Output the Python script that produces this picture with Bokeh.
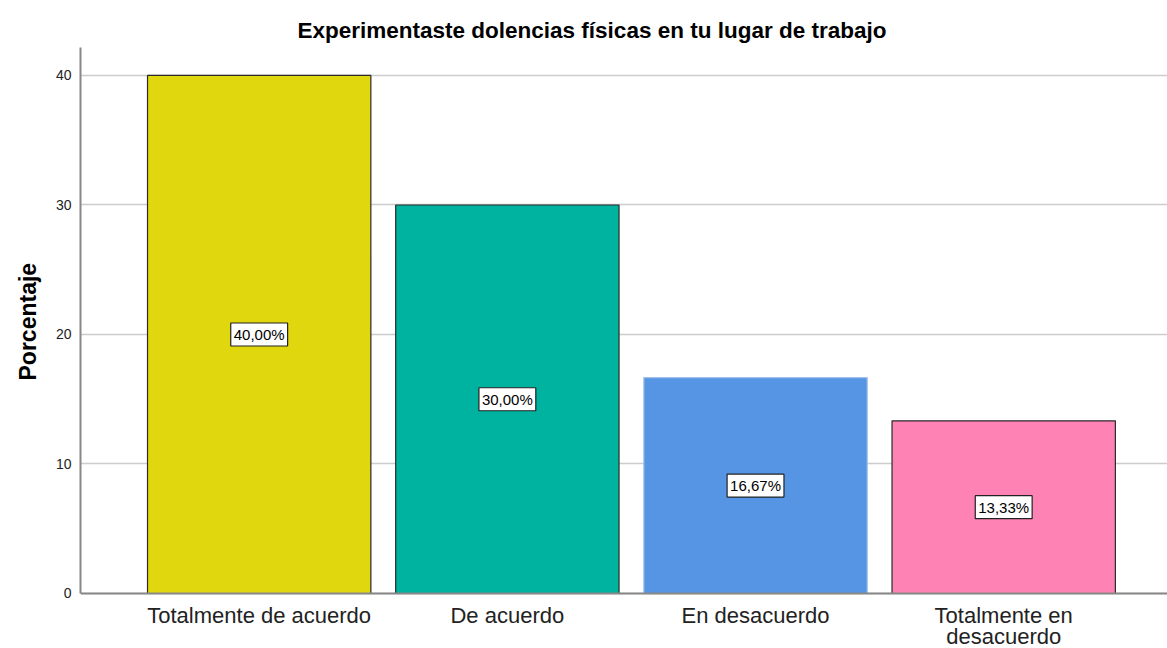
from bokeh.plotting import figure
from bokeh.models import ColumnDataSource, LabelSet, Label, FixedTicker, Range1d, Span, Title
from bokeh.core.properties import value
from bokeh.embed import file_html
from bokeh.resources import INLINE

categories = ["Totalmente de acuerdo", "De acuerdo", "En desacuerdo", "Totalmente en\ndesacuerdo"]
values = [40.00, 30.00, 16.67, 13.33]
colors = ["#E1D70F", "#00B2A0", "#5595E3", "#FF82B4"]
outline = ["#2b2b2b", "#2b2b2b", "#9fc0ea", "#2b2b2b"]
y_ticks = [0, 10, 20, 30, 40]

xs = list(range(1, len(categories) + 1))
line1 = [c.split("\n")[0] for c in categories]
line2 = [c.split("\n")[1] if "\n" in c else "" for c in categories]
src = ColumnDataSource(dict(
    x=xs, top=values, color=colors, line=outline,
    l1=line1, l2=line2, zero=[0] * len(xs),
))

FONT = "Liberation Sans"
p = figure(width=1167, height=648, output_backend="svg", toolbar_location=None,
           x_range=Range1d(0.28, 4.66), y_range=Range1d(-4.247, 42.16),
           x_axis_location=None,
           min_border_left=80, min_border_right=0, min_border_top=47, min_border_bottom=0)

p.title.text = "Experimentaste dolencias físicas en tu lugar de trabajo"
p.title.align = "left"
p.title.offset = 217
p.title.text_font = FONT
p.title.text_font_size = "22.5px"
p.title.text_font_style = "bold"
p.title.text_color = "#000000"

p.vbar(x="x", top="top", width=0.9, bottom=0, source=src, fill_color="color",
       line_color="line", line_width=1.2)

p.add_layout(Span(location=0, dimension="width", line_color="#888888", line_width=2))

for x, v in zip(xs, values):
    p.add_layout(Label(x=x, y=v / 2, text=("%.2f%%" % v).replace(".", ","),
                       text_align="center", text_baseline="middle",
                       text_font=FONT, text_font_size="15px", text_color="#000000",
                       background_fill_color="white", border_line_color="#222222",
                       border_line_width=1.2, padding=3))

cat1 = LabelSet(x="x", y="zero", text="l1", source=src, text_align="center",
                text_baseline="top", y_offset=-10, text_font=value(FONT),
                text_font_size="22px", text_color="#222222")
cat2 = LabelSet(x="x", y="zero", text="l2", source=src, text_align="center",
                text_baseline="top", y_offset=-31, text_font=value(FONT),
                text_font_size="22px", text_color="#222222")
p.add_layout(cat1)
p.add_layout(cat2)

p.yaxis.ticker = FixedTicker(ticks=y_ticks)
p.yaxis.bounds = (0, 42.16)
p.yaxis.major_label_text_font = FONT
p.yaxis.major_label_text_font_size = "14px"
p.yaxis.major_label_text_color = "#222222"
p.yaxis.major_tick_line_color = None
p.yaxis.major_tick_out = 0
p.yaxis.major_tick_in = 0
p.yaxis.minor_tick_line_color = None
p.yaxis.axis_line_color = "#888888"
p.yaxis.axis_line_width = 2
p.yaxis.major_label_standoff = 9

ylab = Title(text="Porcentaje", align="left", offset=268, text_font=FONT,
             text_font_size="23px", text_font_style="bold", text_color="#000000",
             standoff=20, vertical_align="top")
p.add_layout(ylab, "left")

p.xgrid.grid_line_color = None
p.ygrid.grid_line_color = "#cccccc"
p.ygrid.grid_line_width = 1.5
p.outline_line_color = None
p.background_fill_color = "white"

open("out.html", "w").write(file_html(p, INLINE))
